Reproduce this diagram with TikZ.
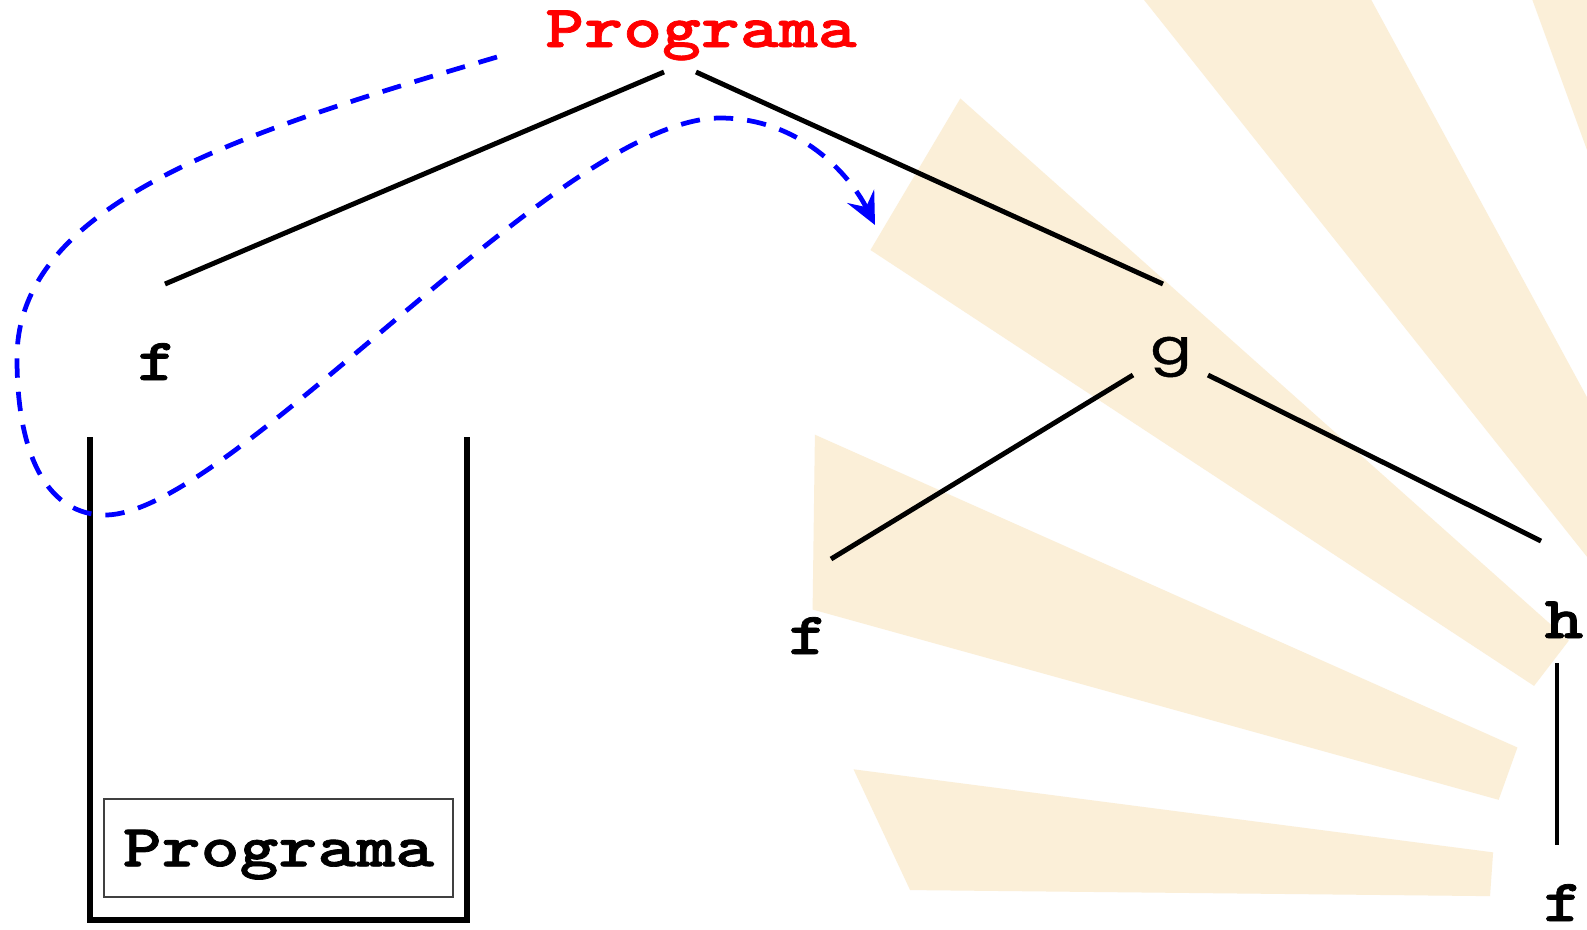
\documentclass[tikz,border=0pt]{standalone}
\usepackage{fontspec}
\usepackage{tikz}
\usetikzlibrary{arrows.meta,calc}
\newfontfamily\cwfont{lmmonolt10-bold}[Extension=.otf, FakeStretch=1.24, FakeBold=1.2]
\newfontfamily\gfont{Poppins}[FakeStretch=1.25, FakeBold=0.8]
\definecolor{raybeige}{RGB}{251,239,216}
\definecolor{boxgrey}{RGB}{64,64,64}
\newcommand{\cw}[1]{{\cwfont\fontsize{17}{20}\selectfont #1}}

\begin{document}
\begin{tikzpicture}[x=0.01cm, y=-0.01cm,
    treeline/.style={line width=1.4pt, black},
    wall/.style={line width=1.7pt, black},
    flow/.style={blue, line width=1.35pt, dash pattern=on 5.5pt off 4pt,
                 -{Stealth[length=3.2mm, width=3mm, inset=1.2mm]}},
    ray/.style={fill=raybeige},
    lbl/.style={inner sep=0pt, anchor=base}
]
    \path[use as bounding box, fill=white] (0,0) rectangle (1587,929);
    % background rays
    \coordinate (sun) at (1860,900);
    \begin{scope}
        \clip (0,0) rectangle (1587,929);
        \foreach \a/\ra/\b/\rb/\ri in {172.6/1015/179.4/950/370, 156/1144/164.5/1087/375,
                                       138.3/1205/146.7/1184/390, 118.5/1300/128.5/1250/390,
                                       99/1300/110/1300/390}
            \fill[ray] ($(sun)+(-\a:\ri)$) -- ($(sun)+(-\a:\ra)$) -- ($(sun)+(-\b:\rb)$) -- ($(sun)+(-\b:\ri)$) -- cycle;
    \end{scope}

    \node[lbl, text=red] (prog) at (701,47)  {\cw{Programa}};
    \node[lbl]           (f1)   at (157,380) {\cw{f}};
    \node[lbl]           (g)    at (1171,364) {\gfont\fontsize{13.9}{16}\selectfont g};
    \node[lbl]           (f2)   at (808,654) {\cw{f}};
    \node[lbl]           (h)    at (1564,638) {\cw{h}};
    \node[lbl]           (f3)   at (1563,921) {\cw{f}};

    \draw[treeline] ($(prog.base)+(-37,25)$) -- ($(f1.base)+(8,-96)$);
    \draw[treeline] ($(prog.base)+(-5,25)$)  -- ($(g.base)+(-8,-80)$);
    \draw[treeline] ($(g.base)+(-38,11)$)    -- ($(f2.base)+(23,-95)$);
    \draw[treeline] ($(g.base)+(37,11)$)     -- ($(h.base)+(-23,-97)$);
    \draw[treeline] ($(h.base)+(-7,25)$)     -- ($(f3.base)+(-6,-76)$);

    % stack
    \draw[wall] (90,437) -- (90,920) -- (467,920) -- (467,437);
    \node[draw=boxgrey, line width=0.5pt, minimum width=3.49cm, minimum height=0.98cm,
          text depth=0pt, inner sep=0pt] (stk) at (278.5,848) {\cw{Programa}};

    \coordinate (back) at (875,225);
    \draw[flow] ($(prog.base)+(-204,10)$) .. controls (250,130) and (17,200) .. (17,358)
        .. controls (17,460) and (50,515) .. (105,515)
        .. controls (230,515) and (560,118) .. (720,118)
        .. controls (800,118) and (850,175) .. (back);
\end{tikzpicture}
\end{document}
